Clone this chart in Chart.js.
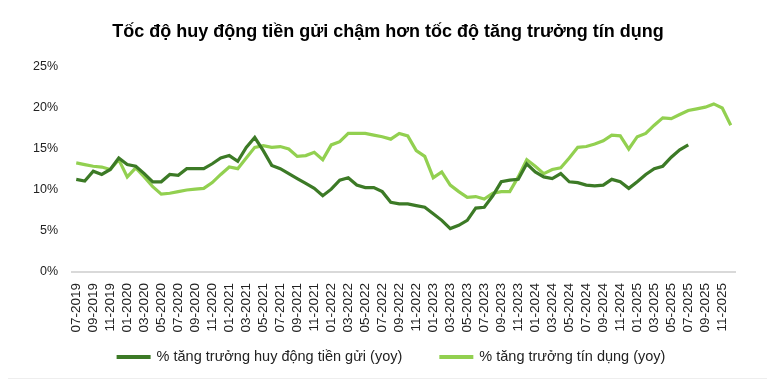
<!DOCTYPE html>
<html>
<head>
<meta charset="utf-8">
<script src="https://cdn.jsdelivr.net/npm/chart.js@4.4.1/dist/chart.umd.min.js"></script>
<style>
  html, body { margin: 0; padding: 0; background: #fff; }
  #wrap { position: relative; width: 777px; height: 381px; }
  #rule { position: absolute; left: 8px; right: 10px; top: 378px; border-top: 1px solid #eeeeee; }
</style>
</head>
<body>
<div id="wrap">
  <canvas id="c" width="777" height="381"></canvas>
  <div id="rule"></div>
</div>
<script>
const chartTitle = "Tốc độ huy động tiền gửi chậm hơn tốc độ tăng trưởng tín dụng";
const seriesNames = ["% tăng trưởng huy động tiền gửi (yoy)", "% tăng trưởng tín dụng (yoy)"];

const months = [
  "07-2019","08-2019","09-2019","10-2019","11-2019","12-2019",
  "01-2020","02-2020","03-2020","04-2020","05-2020","06-2020","07-2020","08-2020","09-2020","10-2020","11-2020","12-2020",
  "01-2021","02-2021","03-2021","04-2021","05-2021","06-2021","07-2021","08-2021","09-2021","10-2021","11-2021","12-2021",
  "01-2022","02-2022","03-2022","04-2022","05-2022","06-2022","07-2022","08-2022","09-2022","10-2022","11-2022","12-2022",
  "01-2023","02-2023","03-2023","04-2023","05-2023","06-2023","07-2023","08-2023","09-2023","10-2023","11-2023","12-2023",
  "01-2024","02-2024","03-2024","04-2024","05-2024","06-2024","07-2024","08-2024","09-2024","10-2024","11-2024","12-2024",
  "01-2025","02-2025","03-2025","04-2025","05-2025","06-2025","07-2025","08-2025","09-2025","10-2025","11-2025","12-2025"
];

// % deposit growth (yoy), 07-2019 .. 07-2025
const depositGrowth = [
  11.3, 11.1, 12.3, 11.9, 12.5, 13.9,
  13.1, 12.9, 12.0, 11.0, 11.0, 11.9, 11.8, 12.6, 12.6, 12.6, 13.2, 13.9,
  14.2, 13.5, 15.2, 16.4, 14.8, 13.0, 12.6, 12.0, 11.4, 10.8, 10.2, 9.3,
  10.1, 11.2, 11.5, 10.6, 10.3, 10.3, 9.8, 8.5, 8.3, 8.3, 8.1, 7.9,
  7.1, 6.3, 5.3, 5.7, 6.3, 7.8, 7.9, 9.3, 11.0, 11.2, 11.3, 13.2,
  12.2, 11.6, 11.4, 12.0, 11.0, 10.9, 10.6, 10.5, 10.6, 11.3, 11.0, 10.2,
  11.0, 11.9, 12.6, 12.9, 14.0, 14.9, 15.5
];

// % credit growth (yoy), 07-2019 .. 12-2025
const creditGrowth = [
  13.3, 13.1, 12.9, 12.8, 12.5, 13.7,
  11.6, 12.7, 11.6, 10.4, 9.5, 9.6, 9.8, 10.0, 10.1, 10.2, 10.9, 11.9,
  12.8, 12.6, 13.9, 15.2, 15.4, 15.2, 15.3, 15.0, 14.1, 14.2, 14.6, 13.7,
  15.5, 15.9, 16.9, 16.9, 16.9, 16.7, 16.5, 16.2, 16.9, 16.6, 14.8, 14.1,
  11.5, 12.2, 10.6, 9.8, 9.1, 9.2, 8.9, 9.6, 9.8, 9.8, 11.6, 13.7,
  12.9, 12.0, 12.5, 12.7, 13.9, 15.2, 15.3, 15.6, 16.0, 16.7, 16.6, 15.0,
  16.5, 16.9, 17.9, 18.8, 18.7, 19.2, 19.7, 19.9, 20.1, 20.5, 20.0, 17.9
];

const yTicks = [0, 5, 10, 15, 20, 25];

const darkGreen = "#3c7a26";
const lightGreen = "#92d050";
const fontFamily = "'Liberation Sans', Arial, sans-serif";

const titlePlugin = {
  id: "titleText",
  afterDraw(chart) {
    const ctx = chart.ctx;
    ctx.save();
    ctx.font = "bold 18px " + fontFamily;
    ctx.fillStyle = "#000";
    ctx.textAlign = "center";
    ctx.textBaseline = "middle";
    ctx.fillText(chartTitle, 388, 32);
    ctx.restore();
  }
};

const legendPlugin = {
  id: "legendRow",
  afterDraw(chart) {
    const ctx = chart.ctx;
    ctx.save();
    ctx.font = "14.5px " + fontFamily;
    const items = chart.data.datasets.map(ds => ({
      text: ds.label, color: ds.borderColor, w: ctx.measureText(ds.label).width
    }));
    const boxW = 34, gap = 6, between = 37, cy = 357;
    const total = items.reduce((a, it) => a + boxW + gap + it.w, 0) + between * (items.length - 1);
    let x = 391 - total / 2;
    ctx.textBaseline = "middle";
    ctx.textAlign = "left";
    items.forEach(it => {
      ctx.fillStyle = it.color;
      ctx.fillRect(x, cy - 2, boxW, 4);
      x += boxW + gap;
      ctx.fillStyle = "#222";
      ctx.fillText(it.text, x, cy);
      x += it.w + between;
    });
    ctx.restore();
  }
};

new Chart(document.getElementById("c"), {
  type: "line",
  data: {
    labels: months,
    datasets: [
      { label: seriesNames[0], data: depositGrowth, borderColor: darkGreen, backgroundColor: darkGreen,
        borderWidth: 3.2, pointRadius: 0, tension: 0, fill: false },
      { label: seriesNames[1], data: creditGrowth, borderColor: lightGreen, backgroundColor: lightGreen,
        borderWidth: 3.2, pointRadius: 0, tension: 0, fill: false }
    ]
  },
  plugins: [titlePlugin, legendPlugin],
  options: {
    responsive: false,
    animation: false,
    devicePixelRatio: 1,
    layout: { padding: { left: 0, right: 42, top: 67, bottom: 41 } },
    plugins: {
      title: { display: false },
      legend: { display: false },
      tooltip: { enabled: false }
    },
    scales: {
      x: {
        offset: true,
        afterFit: function (s) { s.height = 68; },
        grid: { display: false },
        border: { display: true, color: "#d9d9d9", width: 2 },
        ticks: {
          color: "#222", autoSkip: false, maxRotation: 90, minRotation: 90, padding: 3,
          font: { family: fontFamily, size: 13.5 },
          callback: function (v, i) { return i % 2 === 0 ? months[i] : null; }
        }
      },
      y: {
        min: 0, max: 25,
        afterFit: function (s) { s.width = 72; },
        afterBuildTicks: function (s) { s.ticks = yTicks.map(v => ({ value: v })); },
        grid: { display: false },
        border: { display: false },
        ticks: {
          color: "#222", padding: 6,
          font: { family: fontFamily, size: 12.5 },
          callback: function (v) { return v + "%"; }
        }
      }
    }
  }
});
</script>
</body>
</html>
